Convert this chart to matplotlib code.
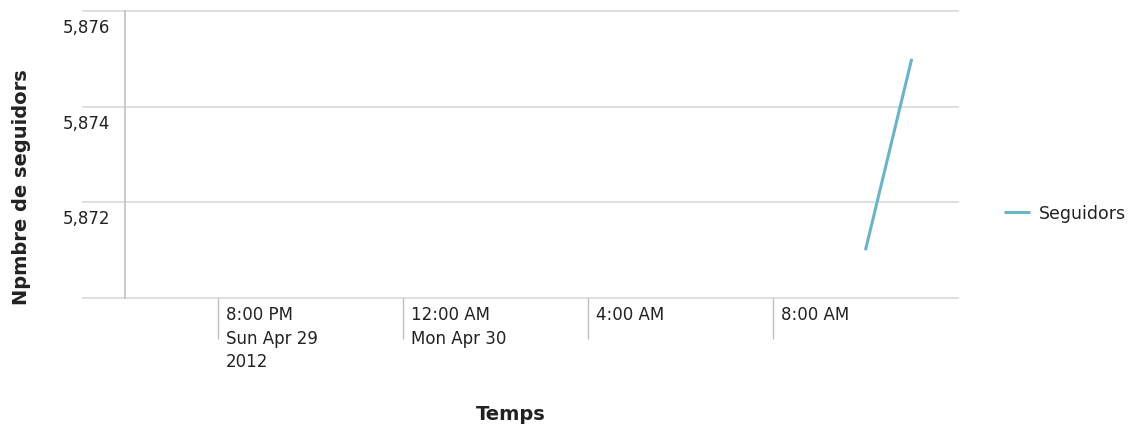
import matplotlib
matplotlib.use("Agg")
import matplotlib.pyplot as plt
import matplotlib.dates as mdates
import matplotlib.transforms as mtransforms
from datetime import datetime

# Data
times = [datetime(2012, 4, 30, 10, 0), datetime(2012, 4, 30, 11, 0)]
seguidors = [5871, 5875]
series_name = "Seguidors"
y_ticks = [5872, 5874, 5876]
y_gridlines = [5870, 5872, 5874, 5876]
x_ticks = [datetime(2012, 4, 29, 20, 0), datetime(2012, 4, 30, 0, 0),
           datetime(2012, 4, 30, 4, 0), datetime(2012, 4, 30, 8, 0)]
x_tick_labels = ["8:00 PM\nSun Apr 29\n2012", "12:00 AM\nMon Apr 30", "4:00 AM", "8:00 AM"]
x_range = [datetime(2012, 4, 29, 18, 0), datetime(2012, 4, 30, 12, 0)]
y_range = [5870, 5876]

W, H = 1134, 427
fig = plt.figure(figsize=(W / 100, H / 100), dpi=100)
ax = fig.add_axes([125 / W, 1 - 299 / H, (958 - 125) / W, (299 - 12) / H])

ax.set_xlim(mdates.date2num(x_range[0]), mdates.date2num(x_range[1]))
ax.set_ylim(*y_range)

text_color = "#222222"
grid_color = "#d9d9d9"
axis_color = "#c0c0c0"

# gridlines extending a bit left of the axis
ext = -(125 - 83) / (958 - 125)
for g in y_gridlines:
    ax.axhline(g, xmin=ext, xmax=1, color=grid_color, lw=1.2, clip_on=False, zorder=1)

line, = ax.plot(mdates.date2num(times), seguidors, color="#6ab4c6", lw=2.2,
                solid_capstyle="butt", label=series_name, zorder=3)

for s in ["top", "right", "bottom"]:
    ax.spines[s].set_visible(False)
ax.spines["left"].set_color(axis_color)
ax.spines["left"].set_linewidth(1.2)
ax.spines["left"].set_zorder(2)

ax.set_yticks([])
ax.set_xticks(mdates.date2num(x_ticks))
ax.set_xticklabels([])
ax.tick_params(axis="x", length=29.5, width=1, color=axis_color, direction="out")

# y tick labels (below gridlines, right-aligned)
ytrans = mtransforms.offset_copy(ax.get_yaxis_transform(), fig=fig, x=-15, y=-7, units="dots")
for v in y_ticks:
    ax.text(0, v, f"{v:,}", transform=ytrans, ha="right", va="top",
            fontsize=12, color=text_color)

# x tick labels (to the right of tick lines)
xtrans = mtransforms.offset_copy(ax.get_xaxis_transform(), fig=fig, x=8, y=-7, units="dots")
for t, lab in zip(x_ticks, x_tick_labels):
    ax.text(mdates.date2num(t), 0, lab, transform=xtrans, ha="left", va="top",
            fontsize=12, color=text_color, linespacing=1.4)

fig.text(22 / W, 1 - 187 / H, "Npmbre de seguidors", rotation=90, ha="center", va="center",
         fontsize=14, fontweight="bold", color=text_color)
fig.text(511 / W, 1 - 415 / H, "Temps", ha="center", va="center",
         fontsize=14, fontweight="bold", color=text_color)

fig.legend(handles=[line], labels=[series_name], loc="center left",
           bbox_to_anchor=(1004 / W, 1 - 214 / H), bbox_transform=fig.transFigure,
           frameon=False, handlelength=1.5, handletextpad=0.5, fontsize=12.5,
           labelcolor=text_color, borderaxespad=0, borderpad=0)

fig.savefig("out.png", dpi=100)
